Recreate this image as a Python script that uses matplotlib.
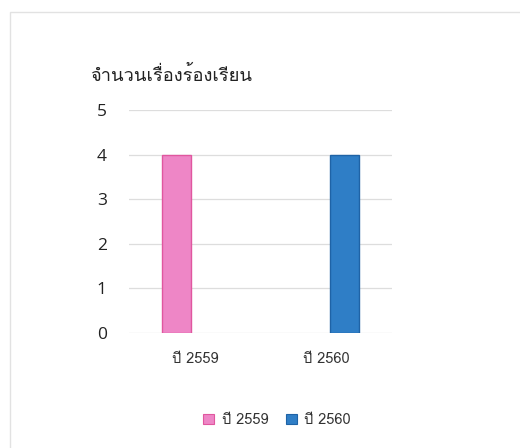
import matplotlib
matplotlib.use("Agg")
import matplotlib.pyplot as plt
from matplotlib.patches import Rectangle, Patch
import numpy as np

categories = ["ปี 2559", "ปี 2560"]
series_names = ["ปี 2559", "ปี 2560"]
values_2559 = [4, 0]
values_2560 = [0, 4]
yticks = [0, 1, 2, 3, 4, 5]
title = "จำนวนเรื่องร้องเรียน"

colors = ['#ee86c6', '#2f7ec6']
edges = ['#e0579f', '#1f63a6']

plt.rcParams['font.family'] = ['Loma', 'Noto Sans Thai Looped', 'DejaVu Sans']

fig = plt.figure(figsize=(5.2, 4.48), dpi=100)
fig.patch.set_facecolor('white')

# faint outer chart border
fig.patches.append(Rectangle((10/520, -0.05), 1.2, 1 - 12/448 + 0.05,
                             transform=fig.transFigure, fill=False,
                             edgecolor='#e2e2e2', linewidth=1.0))

ax = fig.add_axes([129/520, 1 - 333/448, (392 - 129)/520, (333 - 110)/448])
x = np.arange(len(categories))
w = 0.22
off = 0.14
for i, (vals, sx) in enumerate(((values_2559, -off), (values_2560, off))):
    bars = ax.bar(x + sx, vals, w, color=colors[i], edgecolor=edges[i],
                  linewidth=1.0, zorder=3)
    for r, v in zip(bars, vals):
        if v == 0:
            r.set_linewidth(0)

ax.set_xlim(-0.5, len(categories) - 0.5)
ax.set_ylim(0, 5)
ax.set_yticks(yticks)
ax.set_yticklabels([str(t) for t in yticks], fontsize=12.5, color='#222222',
                   family=['Open Sans', 'DejaVu Sans'])
ax.set_xticks(x)
ax.set_xticklabels(categories, fontsize=10.5, color='#333333')
ax.tick_params(axis='y', length=0, pad=16)
ax.tick_params(axis='x', length=0, pad=14)
ax.grid(axis='y', color='#dddddd', linewidth=0.9, zorder=0)
for s in ax.spines.values():
    s.set_visible(False)
ax.set_facecolor('none')

fig.text(90/520, 1 - 75/448, title, fontsize=13.2, color='#222222',
         va='center', ha='left')

handles = [Patch(facecolor=colors[i], edgecolor=edges[i], linewidth=0.8)
           for i in range(2)]
leg = fig.legend(handles=handles, labels=series_names, loc='center',
                 bbox_to_anchor=(277/520, 1 - 420/448), ncol=2, frameon=False,
                 fontsize=10.5, handlelength=0.75, handleheight=0.75,
                 handletextpad=0.5, columnspacing=1.2)
for t in leg.get_texts():
    t.set_color('#333333')

fig.savefig("out.png", dpi=100, facecolor='white')
